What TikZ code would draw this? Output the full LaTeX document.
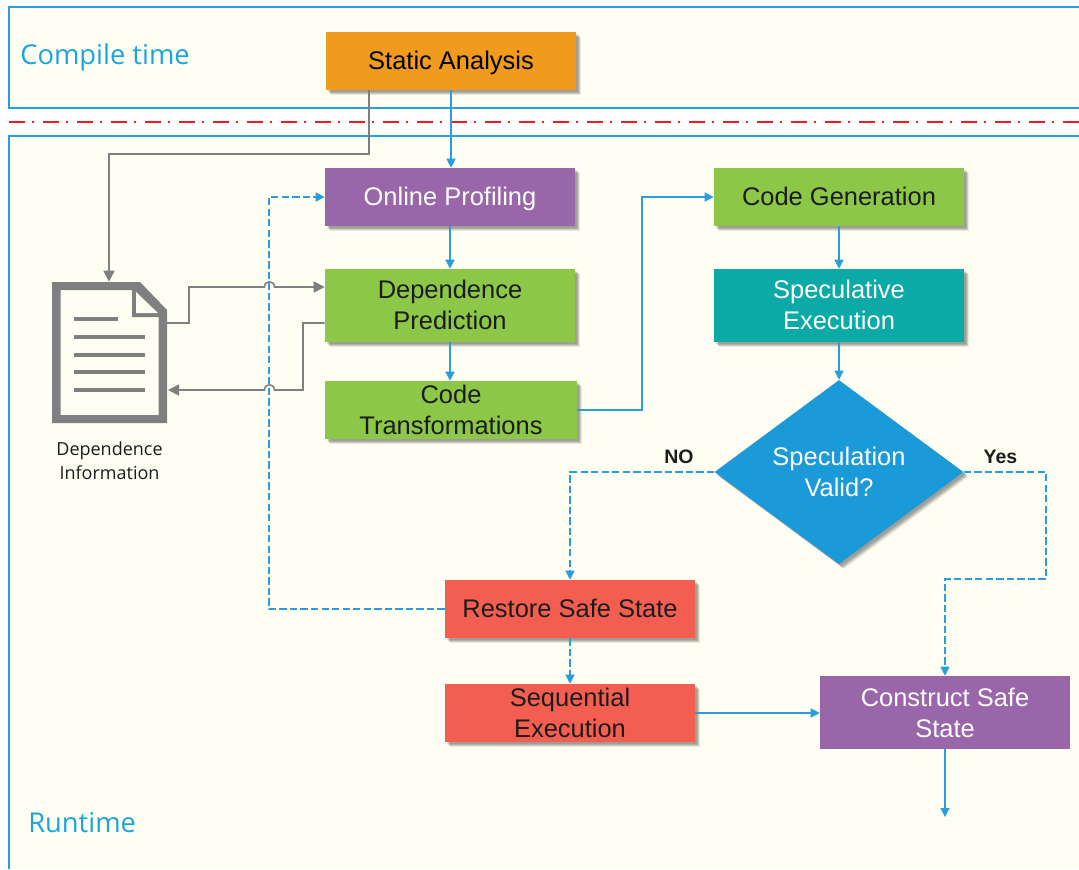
\documentclass[tikz,border=0pt]{standalone}
\usepackage{fontspec}
\setmainfont{Liberation Sans}
\newfontfamily\labelfont{Open Sans}
\usetikzlibrary{arrows.meta,shapes.geometric}
\definecolor{panelfill}{HTML}{FEFEF2}
\definecolor{panelline}{HTML}{2A9EDC}
\definecolor{orangebox}{HTML}{F09A1E}
\definecolor{purplebox}{HTML}{9966AA}
\definecolor{greenbox}{HTML}{8DC747}
\definecolor{tealbox}{HTML}{0BAAA6}
\definecolor{bluebox}{HTML}{1A9AD8}
\definecolor{redbox}{HTML}{F35E50}
\definecolor{docgray}{HTML}{7F7F7F}
\definecolor{ink}{HTML}{1C1C1C}
\definecolor{dashred}{HTML}{ED1C24}
\definecolor{titleblue}{HTML}{1CA5DC}
\newcommand{\liftline}{\rule[-1.5pt]{0pt}{0pt}}
\tikzset{
  softshadow/.style={
    preaction={draw=none,fill=black,fill opacity=.10,transform canvas={shift={(1.5pt,-1.5pt)}}},
    preaction={draw=none,fill=black,fill opacity=.13,transform canvas={shift={(2.25pt,-2.25pt)}}},
    preaction={draw=none,fill=black,fill opacity=.13,transform canvas={shift={(3pt,-3pt)}}},
    preaction={draw=none,fill=black,fill opacity=.08,transform canvas={shift={(3.75pt,-3.75pt)}}}},
  flatbox/.style={rectangle,inner sep=0pt,align=center,minimum width=187.5pt,
    font=\fontsize{19.1}{23.2}\selectfont},
  boxbase/.style={flatbox,softshadow},
  lowbox/.style={boxbase,minimum height=43.5pt},
  tallbox/.style={boxbase,minimum height=54.75pt},
  oneline/.style={text height=12.5pt,text depth=0pt},
  panel/.style={draw=panelline,line width=.9pt},
  flow/.style={draw=panelline,line width=.9pt,-{Triangle[length=6.75pt,width=6.75pt]}},
  flowdash/.style={flow,dash pattern=on 5.5pt off 2.4pt},
  info/.style={draw=docgray,line width=1.15pt,-{Triangle[length=8.25pt,width=8.25pt]}},
  tag/.style={inner sep=0pt,text=ink,font=\bfseries\fontsize{14.6}{17}\selectfont},
  title/.style={inner sep=0pt,text=titleblue,font=\labelfont\fontsize{20.5}{25}\selectfont},
  docline/.style={draw=docgray,line width=3.5pt}
}
\begin{document}
\begin{tikzpicture}[x=.75pt,y=-.75pt]
\useasboundingbox (0,0) rectangle (1079,869);
% panels
\fill[panelfill] (9,7) rectangle (1079,108);
\fill[panelfill] (9,136) rectangle (1079,869);
\draw[panel] (1079,7) -- (9,7) -- (9,108) -- (1079,108);
\draw[panel] (9,869) -- (9,136) -- (1079,136);
\draw[dashred,line width=1.4pt,dash pattern=on 12pt off 5.5pt on 1.5pt off 6.5pt] (9,122) -- (1079,122);
\node[title,anchor=west] (ct) at (20,57) {Compile time};
\node[title,anchor=west] (rt) at (28,823) {Runtime};
% boxes
\node[lowbox,oneline,fill=orangebox,text=black] (static) at (451,61) {Static Analysis};
\node[lowbox,oneline,fill=purplebox,text=white] (profile) at (450,197) {Online Profiling};
\node[tallbox,fill=greenbox,text=ink] (predict) at (450,305.5) {Dependence\\Prediction\liftline};
\node[lowbox,fill=greenbox,text=ink,minimum width=189pt] (transform) at (451,410) {Code\\Transformations};
\node[lowbox,oneline,fill=greenbox,text=ink] (gen) at (839,197) {Code Generation};
\node[tallbox,fill=tealbox,text=white] (spec) at (839,305.5) {Speculative\\Execution\liftline};
\node[diamond,inner sep=0pt,aspect=1.35,minimum width=186.75pt,minimum height=138pt,fill=bluebox,text=white,align=center,softshadow,
  font=\fontsize{19.1}{23.2}\selectfont] (valid) at (839,472) {Speculation\\Valid?};
\node[lowbox,oneline,fill=redbox,text=ink] (restore) at (570,609) {Restore Safe State};
\node[lowbox,fill=redbox,text=ink] (seq) at (570,713) {Sequential\\Execution};
\node[flatbox,minimum height=54.75pt,fill=purplebox,text=white] (safe) at (945,712.5) {Construct Safe\\State};
% document icon
\node[inner sep=0pt,minimum width=86.25pt,minimum height=105.75pt] (doc) at (109.5,352.5) {};
\fill[docgray,even odd rule] (52,282) -- (140,282) -- (167,310) -- (167,423) -- (52,423) -- cycle
  (60.5,290) -- (132,290) -- (132,317) -- (158.5,317) -- (158.5,415) -- (60.5,415) -- cycle;
\fill[panelfill] (136,292) -- (158,313) -- (136,313) -- cycle;
\foreach \yy/\xe in {319/118,337/145,355/145,372/145,390/145}
  \draw[docline] (74,\yy) -- (\xe,\yy);
\node[inner sep=0pt,align=center,text=ink,font=\labelfont\fontsize{13.5}{18}\selectfont] (doccap) at (109.5,460.5) {Dependence\\Information};
% labels
\node[tag] (nolabel) at (679,457) {NO};
\node[tag] (yeslabel) at (1000.5,457) {Yes};
% helper points
\coordinate (c1) at (369,154);
\coordinate (c2) at (109,154);
\coordinate (c3) at (189,323);
\coordinate (c4) at (189,287);
\coordinate (c5) at (264.5,287);
\coordinate (c6) at (274.5,287);
\coordinate (c7) at (303,323);
\coordinate (c8) at (303,390);
\coordinate (c9) at (274.5,390);
\coordinate (c10) at (264.5,390);
\coordinate (d1) at (269,608);
\coordinate (d2) at (269,197);
\coordinate (e1) at (642,410);
\coordinate (e2) at (642,197);
\coordinate (y1) at (1046,472);
\coordinate (y2) at (1046,579);
\coordinate (y3) at (945,579);
\coordinate (n1) at (570,472);
\coordinate (o1) at (945,817);
\coordinate (doc1) at (167,323);
\coordinate (doc2) at (168,390);
% connectors
\draw[flowdash] (restore.west) -- (restore.west -| d1) -- (d2) -- (profile.west);
\draw[flow] (static.south) -- (static.south |- profile.north);
\draw[flow] (profile.south) -- (predict.north);
\draw[flow] (predict.south) -- (transform.north -| predict.south);
\draw[flow] (transform.east) -- (e1) -- (e2) -- (gen.west);
\draw[flow] (gen.south) -- (spec.north);
\draw[flow] (spec.south) -- (valid.north);
\draw[flowdash] (valid.west) -- (n1) -- (restore.north);
\draw[flowdash] (valid.east) -- (y1) -- (y2) -- (y3) -- (safe.north);
\draw[flowdash] (restore.south) -- (seq.north);
\draw[flow] (seq.east) -- (safe.west |- seq.east);
\draw[flow] (safe.south) -- (o1);
\draw[info] (static.south -| c1) -- (c1) -- (c2) -- (doc.north -| c2);
\draw[info] (doc1) -- (c3) -- (c4) -- (c5) .. controls (264.5,280) and (274.5,280) .. (c6) -- (predict.west |- c4);
\draw[info] (predict.west |- c7) -- (c7) -- (c8) -- (c9) .. controls (274.5,383) and (264.5,383) .. (c10) -- (doc2);
\end{tikzpicture}
\end{document}
